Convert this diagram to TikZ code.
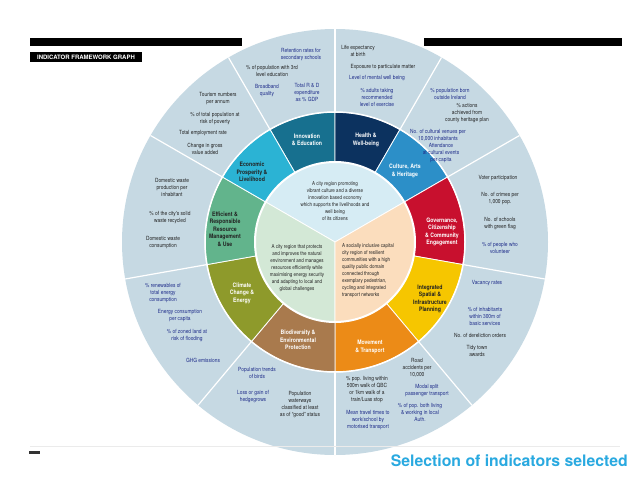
\documentclass[tikz,border=0pt]{standalone}
\usepackage{fontspec}
\setmainfont{TeX Gyre Heros}
\newfontfamily\cn[FakeStretch=0.85]{TeX Gyre Heros}
\definecolor{outerring}{HTML}{C6D9E3}
\definecolor{innov}{HTML}{17708F}
\definecolor{health}{HTML}{0C325F}
\definecolor{culture}{HTML}{2C8FC8}
\definecolor{gov}{HTML}{C8102E}
\definecolor{integ}{HTML}{F6C600}
\definecolor{move}{HTML}{EC8B17}
\definecolor{bio}{HTML}{A97A4D}
\definecolor{climate}{HTML}{8E9A2B}
\definecolor{effic}{HTML}{62B48C}
\definecolor{econ}{HTML}{2BB3D4}
\definecolor{intop}{HTML}{D6ECF4}
\definecolor{inleft}{HTML}{D3E8D6}
\definecolor{inright}{HTML}{FBDDBD}
\definecolor{btext}{HTML}{1F2D8A}
\definecolor{dtext}{HTML}{222222}
\definecolor{titleblue}{HTML}{29A9E0}
\begin{document}
\begin{tikzpicture}[x=1pt,y=1pt,
  lb/.style={font=\cn\fontsize{5.7}{7}\selectfont, align=center, inner sep=0pt},
  dk/.style={lb, text=dtext},
  bl/.style={lb, text=btext},
  seg/.style={font=\cn\bfseries\fontsize{6.1}{7.5}\selectfont, align=center, inner sep=0pt, text=white},
  segdk/.style={seg, text=dtext},
  inr/.style={font=\cn\fontsize{5.3}{7}\selectfont, align=center, inner sep=0pt, text=dtext}]
\useasboundingbox[fill=white] (0,0) rectangle (638,-479);
% header bars
\fill[black] (30,-38) rectangle (242,-46);
\fill[black] (424,-38) rectangle (622,-46);
\node[fill=black, text=white, font=\bfseries\fontsize{6}{7}\selectfont, inner sep=1pt, minimum height=10pt, minimum width=112pt] (hdr) at (86,-57) {INDICATOR FRAMEWORK GRAPH};
% wheel
\coordinate (C) at (335,-242);
\fill[outerring] (C) circle (213);
\foreach \a in {90,60,30,-10,-50,-90,-130,-170,150,120}
  \draw[white, line width=1.2pt] (C) -- ++(\a:213);
\foreach \a/\b/\c in {90/120/innov, 60/90/health, 30/60/culture, -10/30/gov, -50/-10/integ, -90/-50/move, -130/-90/bio, -170/-130/climate, 150/190/effic, 120/150/econ}
  \filldraw[fill=\c, draw=white, line width=0.8pt] (C) -- ++(\a:130) arc[start angle=\a, end angle=\b, radius=130] -- cycle;
\draw[white, line width=1.5pt] (C) circle (130);
\foreach \a/\b/\c in {30/150/intop, 150/270/inleft, -90/30/inright}
  \filldraw[fill=\c, draw=white, line width=0.8pt] (C) -- ++(\a:80) arc[start angle=\a, end angle=\b, radius=80] -- cycle;
\draw[white, line width=2pt] (C) circle (80);
% inner texts
\node[inr] (itop) at (335,-201) {A city region promoting\\vibrant culture and a diverse\\innovation based economy\\which supports the livelihoods and\\well being\\of its citizens};
\node[inr] (ileft) at (297,-268) {A city region that protects\\and improves the natural\\environment and manages\\resources efficiently while\\maximising energy security\\and adapting to local and\\global challenges};
\node[inr, align=left, anchor=west] (iright) at (342,-271) {A socially inclusive capital\\city region of resilient\\communities with a high\\quality public domain\\connected through\\exemplary pedestrian,\\cycling and integrated\\transport networks};
% segment labels
\node[seg] (sinn) at (307,-140) {Innovation\\\& Education};
\node[seg] (shea) at (366,-140) {Health \&\\Well-being};
\node[seg] (scul) at (405,-171) {Culture, Arts\\\& Heritage};
\node[seg] (sgov) at (442,-232) {Governance,\\Citizenship\\\& Community\\Engagement};
\node[segdk] (sint) at (430,-299) {Integrated\\Spatial \&\\Infrastructure\\Planning};
\node[seg] (smov) at (370,-347) {Movement\\\& Transport};
\node[seg] (sbio) at (298,-340) {Biodiversity \&\\Environmental\\Protection};
\node[seg] (scli) at (242,-293) {Climate\\Change \&\\Energy};
\node[segdk] (seff) at (225,-229) {Efficient \&\\Responsible\\Resource\\Management\\\& Use};
\node[segdk] (seco) at (252,-172) {Economic\\Prosperity \&\\Livelihood};
% outer: innovation
\node[bl] (o1) at (301,-55) {Retention rates for\\secondary schools};
\node[dk] (o2) at (272,-71) {\% of population with 3rd\\level education};
\node[bl] (o3) at (267,-91) {Broadband\\quality};
\node[bl] (o4) at (307,-92) {Total R \& D\\expenditure\\as \% GDP};
% economic
\node[dk] (o5) at (218,-99) {Tourism numbers\\per annum};
\node[dk] (o6) at (215,-119) {\% of total population at\\risk of poverty};
\node[dk] (o7) at (203,-133) {Total employment rate};
\node[dk] (o8) at (205,-149) {Change in gross\\value added};
% efficient
\node[dk] (o9) at (172,-187) {Domestic waste\\production per\\inhabitant};
\node[dk] (o10) at (170,-218) {\% of the city's solid\\waste recycled};
\node[dk] (o11) at (163,-243) {Domestic waste\\consumption};
% climate
\node[bl] (o12) at (163,-293) {\% renewables of\\total energy\\consumption};
\node[bl] (o13) at (180,-316) {Energy consumption\\per capita};
\node[bl] (o14) at (187,-336) {\% of zoned land at\\risk of flooding};
\node[bl] (o15) at (203,-360) {GHG emissions};
% biodiversity
\node[bl] (o16) at (257,-373) {Population trends\\of birds};
\node[bl] (o17) at (253,-397) {Loss or gain of\\hedgegrows};
\node[dk] (o18) at (300,-405) {Population\\waterways\\classified at least\\as of \textquotedblleft good\textquotedblright\ status};
% movement
\node[dk] (o19) at (367,-390) {\% pop. living within\\500m walk of QBC\\or 1km walk of a\\train/Luas stop};
\node[bl] (o20) at (368,-420) {Mean travel times to\\work/school by\\motorised transport};
\node[dk] (o21) at (417,-368) {Road\\accidents per\\10,000};
\node[bl] (o22) at (427,-391) {Modal split\\passenger transport};
\node[bl] (o23) at (420,-412) {\% of pop. both living\\\& working in local\\Auth.};
% integrated
\node[bl] (o24) at (487,-283) {Vacancy rates};
\node[bl] (o25) at (485,-316) {\% of inhabitants\\within 300m of\\basic services};
\node[dk] (o26) at (480,-335) {No. of dereliction orders};
\node[dk] (o27) at (477,-351) {Tidy town\\awards};
% governance
\node[dk] (o28) at (498,-178) {Voter participation};
\node[dk] (o29) at (500,-199) {No. of crimes per\\1,000 pop.};
\node[dk] (o30) at (500,-224) {No. of schools\\with green flag};
\node[bl] (o31) at (500,-248) {\% of people who\\volunteer};
% culture
\node[bl] (o32) at (450,-94) {\% population born\\outside Ireland};
\node[dk] (o33) at (467,-113) {\% actions\\achieved from\\county heritage plan};
\node[bl] (o34) at (438,-135) {No. of cultural venues per\\10,000 inhabitants};
\node[bl] (o35) at (441,-153) {Attendance\\at cultural events\\per capita};
% health
\node[dk] (o36) at (358,-51) {Life expectancy\\at birth};
\node[dk] (o37) at (383,-67) {Exposure to particulate matter};
\node[bl] (o38) at (377,-78) {Level of mental well being};
\node[bl] (o39) at (377,-97) {\% adults taking\\recommended\\level of exercise};
% footer
\draw[black!8, line width=0.6pt] (30,-446) -- (620,-446);
\fill[black!80] (29,-451) rectangle (40,-453.5);
\node[anchor=east, text=titleblue, font=\bfseries\fontsize{15.8}{18}\selectfont, inner sep=0pt] (ttl) at (628,-461) {Selection of indicators selected};
\end{tikzpicture}
\end{document}
